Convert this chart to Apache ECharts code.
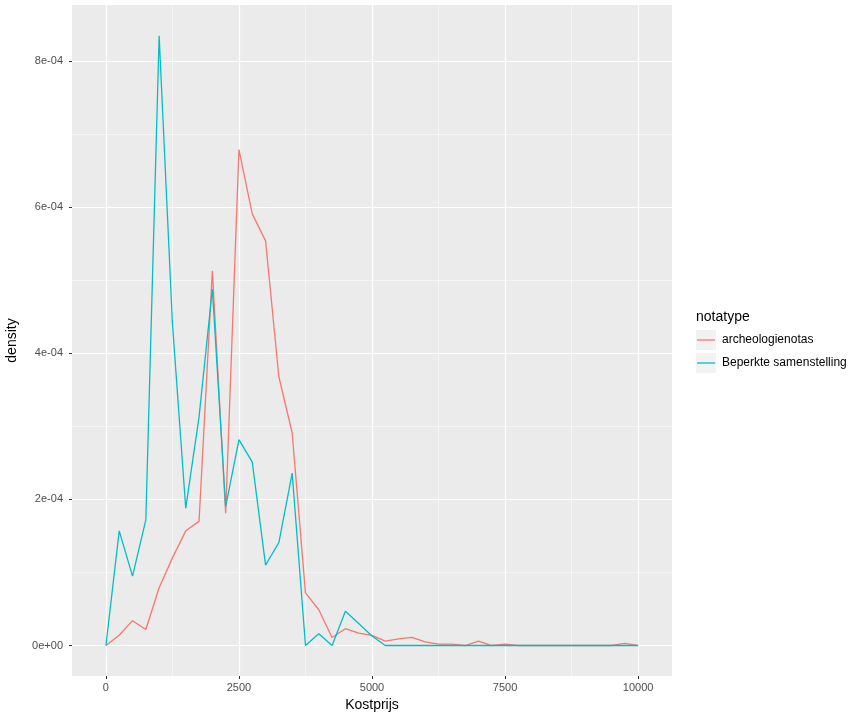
<!DOCTYPE html>
<html><head><meta charset="utf-8">
<script src="https://cdn.jsdelivr.net/npm/echarts@6/dist/echarts.min.js"></script>
<style>html,body{margin:0;padding:0;background:#fff}#c{width:864px;height:721px}</style>
</head><body><div id="c"></div>
<script>
const kostprijs = [0,250,500,750,1000,1250,1500,1750,2000,2250,2500,2750,3000,3250,3500,3750,4000,4250,4500,4750,5000,5250,5500,5750,6000,6250,6500,6750,7000,7250,7500,7750,8000,8250,8500,8750,9000,9250,9500,9750,10000];
const archeologienotas = [0,0.14e-4,0.34e-4,0.22e-4,0.79e-4,1.20e-4,1.57e-4,1.70e-4,5.13e-4,1.81e-4,6.79e-4,5.91e-4,5.54e-4,3.68e-4,2.91e-4,0.72e-4,0.49e-4,0.11e-4,0.23e-4,0.17e-4,0.14e-4,0.06e-4,0.09e-4,0.11e-4,0.05e-4,0.02e-4,0.02e-4,0,0.06e-4,0,0.02e-4,0,0,0,0,0,0,0,0,0.03e-4,0];
const beperkte = [0,1.57e-4,0.95e-4,1.72e-4,8.35e-4,4.41e-4,1.88e-4,3.13e-4,4.88e-4,1.90e-4,2.82e-4,2.51e-4,1.10e-4,1.41e-4,2.36e-4,0,0.16e-4,0,0.47e-4,0.30e-4,0.13e-4,0,0,0,0,0,0,0,0,0,0,0,0,0,0,0,0,0,0,0,0];
const xMajor = [0,2500,5000,7500,10000];
const xMinor = [1250,3750,6250,8750];
const yMajor = [0,2e-4,4e-4,6e-4,8e-4];
const yMinor = [1e-4,3e-4,5e-4,7e-4];
const yLabels = ['0e+00','2e-04','4e-04','6e-04','8e-04'];
const seriesNames = ['archeologienotas','Beperkte samenstelling'];
const colors = ['#F8766D','#00BFC4'];

const xMin = -637.5, xMax = 10637.5;
const yMin = -0.4175e-4, yMax = 8.77e-4;
const font = 'Liberation Sans, Arial, sans-serif';

const chart = echarts.init(document.getElementById('c'), null, {renderer:'canvas'});
chart.setOption({
  animation:false,
  textStyle:{fontFamily:font},
  grid:{left:72,right:192,top:5,bottom:45,show:true,backgroundColor:'#EBEBEB',borderWidth:0,
        containLabel:false,outerBoundsMode:'none'},
  title:{text:'notatype',left:696,top:310,padding:0,textStyle:{fontFamily:font,fontSize:14,fontWeight:'normal',color:'#000'}},
  legend:{left:697,top:330,padding:0,orient:'vertical',itemWidth:18,itemHeight:20,itemGap:3,
    icon:'path://M0,0H18V1.3H0Z',symbolKeepAspect:true,
    data:seriesNames,textStyle:{fontFamily:font,fontSize:12,color:'#000',lineHeight:20,padding:[0,0,0,2]}},
  graphic:[
    {type:'rect',left:696,top:330,shape:{width:20,height:20},style:{fill:'#F2F2F2'},z:-1},
    {type:'rect',left:696,top:353,shape:{width:20,height:20},style:{fill:'#F2F2F2'},z:-1}
  ],
  xAxis:[
    {type:'value',min:xMin,max:xMax,name:'Kostprijs',nameLocation:'middle',nameGap:22,
     nameTextStyle:{fontFamily:font,fontSize:14,color:'#000'},
     axisLine:{show:false,onZero:false},
     axisTick:{show:true,length:3,customValues:xMajor,lineStyle:{color:'#333',width:1}},
     axisLabel:{customValues:xMajor,margin:6,fontSize:11,color:'#4D4D4D',fontFamily:font,
       formatter:function(v){return String(Math.round(v));}},
     splitLine:{show:true,lineStyle:{color:'#fff',width:1.2}}},
    {type:'value',min:xMin,max:xMax,position:'bottom',
     axisLine:{show:false,onZero:false},axisTick:{show:false,customValues:xMinor},
     axisLabel:{show:false,customValues:xMinor},
     splitLine:{show:true,lineStyle:{color:'#fff',width:0.5}}}
  ],
  yAxis:[
    {type:'value',min:yMin,max:yMax,name:'density',nameLocation:'middle',nameGap:53,
     nameTextStyle:{fontFamily:font,fontSize:14,color:'#000'},
     axisLine:{show:false,onZero:false},
     axisTick:{show:true,length:3,customValues:yMajor,lineStyle:{color:'#333',width:1}},
     axisLabel:{customValues:yMajor,margin:9,fontSize:11,color:'#4D4D4D',fontFamily:font,
       formatter:function(v){const i=yMajor.findIndex(m=>Math.abs(m-v)<1e-9);return i>=0?yLabels[i]:'';}},
     splitLine:{show:true,lineStyle:{color:'#fff',width:1.2}}},
    {type:'value',min:yMin,max:yMax,position:'left',
     axisLine:{show:false,onZero:false},axisTick:{show:false,customValues:yMinor},
     axisLabel:{show:false,customValues:yMinor},
     splitLine:{show:true,lineStyle:{color:'#fff',width:0.5}}}
  ],
  series:[
    {name:seriesNames[0],type:'line',symbol:'none',data:kostprijs.map((x,i)=>[x,archeologienotas[i]]),
     lineStyle:{color:colors[0],width:1.3},itemStyle:{color:colors[0]},z:3},
    {name:seriesNames[1],type:'line',symbol:'none',data:kostprijs.map((x,i)=>[x,beperkte[i]]),
     lineStyle:{color:colors[1],width:1.3},itemStyle:{color:colors[1]},z:4}
  ]
});
</script></body></html>
